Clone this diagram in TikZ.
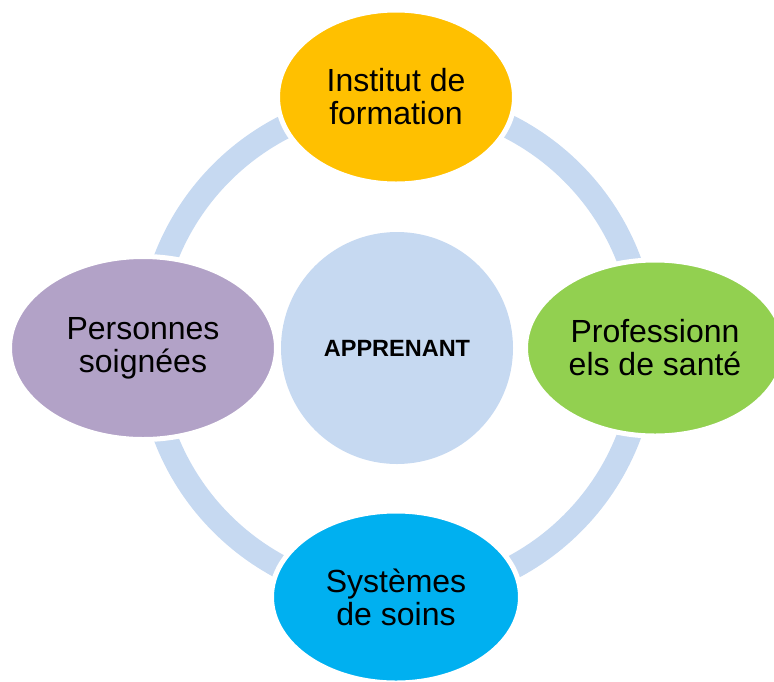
\documentclass[tikz,border=0pt]{standalone}
\usepackage{fontspec}
\setmainfont{Liberation Sans}
\usepackage{xcolor}
\usetikzlibrary{shapes.geometric}

\definecolor{ringblue}{HTML}{C6D9F1}
\definecolor{instorange}{HTML}{FFC000}
\definecolor{progreen}{HTML}{92D050}
\definecolor{syscyan}{HTML}{00B0F0}
\definecolor{perspurple}{HTML}{B2A2C7}

\tikzset{
    bubble/.style={ellipse, draw=white, line width=5pt, align=center, inner sep=0pt,
        font=\fontsize{32}{33}\selectfont},
    ring/.style={ringblue, line width=24pt}
}

\begin{document}
\begin{tikzpicture}[x=1pt, y=-1pt]
        \useasboundingbox (0, 0) rectangle (774, 681);

        \node[circle, fill=ringblue, minimum size=232pt, inner sep=0pt,
            font=\fontsize{23.5}{25}\selectfont\bfseries] (apprenant) at (397, 348) {APPRENANT};

        \draw[ring] (apprenant.center) circle (248pt); % ring

        \node[bubble, fill=instorange, minimum width=237pt, minimum height=174pt] (institut) at (396, 97) {Institut de\\formation};
        \node[bubble, fill=progreen, minimum width=259pt, minimum height=176pt] (pro-sante) at (655, 348) {Professionn\\els de sant\'e};
        \node[bubble, fill=syscyan, minimum width=249pt, minimum height=172pt] (systemes) at (396, 597) {Syst\`emes\\de soins};
        \node[bubble, fill=perspurple, minimum width=267pt, minimum height=183pt] (personnes) at (143, 348) {Personnes\\soign\'ees};

    \end{tikzpicture}
\end{document}
